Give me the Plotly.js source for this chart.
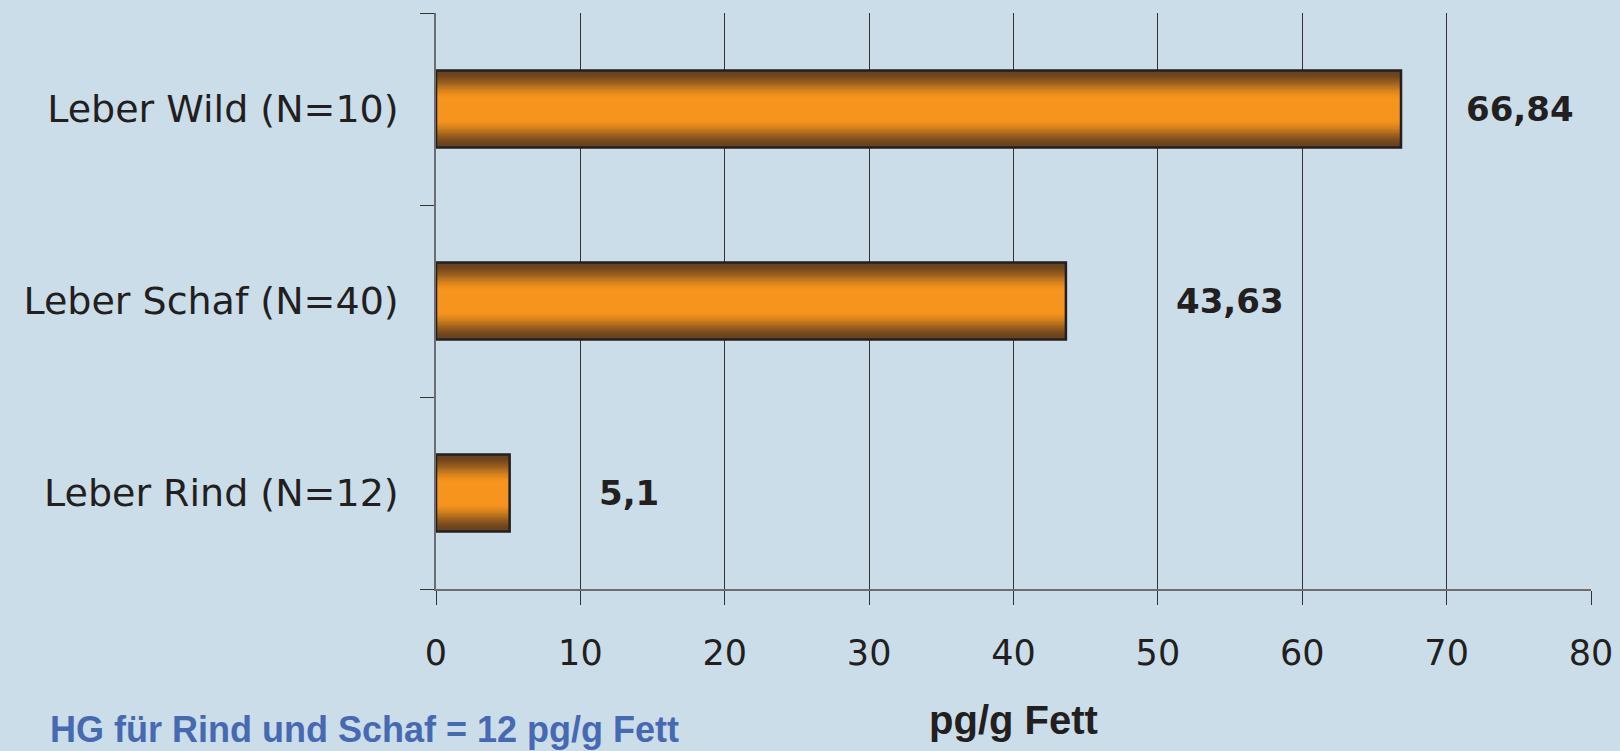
<!DOCTYPE html>
<html>
<head>
<meta charset="utf-8">
<script src="https://cdn.plot.ly/plotly-3.0.1.min.js"></script>
<style>html,body{margin:0;padding:0;background:#cbdde9;}</style>
</head>
<body>
<div id="chart" style="width:1620px;height:751px;"></div>
<script>
// ---- data ----
const categories = ['Leber Rind (N=12)', 'Leber Schaf (N=40)', 'Leber Wild (N=10)'];
const values = [5.1, 43.63, 66.84];
const valueLabels = ['5,1', '43,63', '66,84'];
const xTickVals = [0, 10, 20, 30, 40, 50, 60, 70, 80];
const xTitle = 'pg/g Fett';
const noteText = 'HG für Rind und Schaf = 12 pg/g Fett';

// ---- layout constants (not data) ----
const labelPos = [13.4, 55.0, 75.1];
const barWidth = 0.4;
const dark = [104, 66, 30];
const orange = [247, 148, 29];
const nLayers = 16;
const depth = 0.36;

function mix(a, b, t) {
  return 'rgb(' + a.map((v, i) => Math.round(v + (b[i] - v) * t)).join(',') + ')';
}

const traces = [];
for (let i = 0; i < nLayers; i++) {
  const d = depth * i / (nLayers - 1);          // depth from edge (fraction of bar width)
  const t = Math.min(1, d / depth);
  const tt = t * t * (3 - 2 * t);
  traces.push({
    type: 'bar', orientation: 'h',
    x: values, y: categories,
    width: barWidth * (1 - 2 * d),
    marker: {color: mix(dark, orange, tt), line: {width: 0}},
    hoverinfo: 'skip', showlegend: false
  });
}
traces.push({
  type: 'bar', orientation: 'h',
  x: values, y: categories, width: barWidth,
  marker: {color: 'rgba(0,0,0,0)', line: {color: '#231f20', width: 2.5}},
  hovertemplate: '%{y}: %{x}<extra></extra>', showlegend: false
});

const annotations = values.map((v, i) => ({
  x: labelPos[i], y: categories[i], xref: 'x', yref: 'y',
  text: valueLabels[i], showarrow: false,
  font: {family: 'DejaVu Sans', size: 34, color: '#231f20', weight: 'bold'},
  xanchor: 'center', yanchor: 'middle'
}));
annotations.push({
  x: -0.3347, y: -0.2445, xref: 'paper', yref: 'paper',
  text: noteText, showarrow: false, xanchor: 'left', yanchor: 'middle',
  borderpad: 0,
  font: {family: 'Liberation Sans', size: 36, color: '#4769b2', weight: 'bold'}
});

const layout = {
  width: 1620, height: 751,
  paper_bgcolor: '#cbdde9', plot_bgcolor: '#cbdde9',
  margin: {l: 436, r: 29, t: 13, b: 162},
  barmode: 'overlay',
  showlegend: false,
  xaxis: {
    range: [0, 80], tickvals: xTickVals, ticktext: xTickVals.map(String),
    ticks: 'outside', ticklen: 14, tickcolor: '#333', tickwidth: 1,
    showline: true, linecolor: '#6d6d6d', linewidth: 1.5,
    showgrid: true, gridcolor: '#333', gridwidth: 1, zeroline: false,
    tickfont: {family: 'DejaVu Sans', size: 35, color: '#231f20'},
    ticklabelstandoff: 18,
    title: {text: xTitle, standoff: 34,
      font: {family: 'Liberation Sans', size: 40, color: '#231f20', weight: 'bold'}},
    automargin: false
  },
  yaxis: {
    type: 'category', categoryorder: 'array', categoryarray: categories,
    ticks: 'outside', ticklen: 14, tickcolor: '#333', tickwidth: 1,
    tickson: 'boundaries',
    showline: true, linecolor: '#6d6d6d', linewidth: 1.5,
    showgrid: false, zeroline: false,
    tickfont: {family: 'DejaVu Sans', size: 38, color: '#231f20'},
    ticklabelstandoff: 28,
    automargin: false
  },
  annotations: annotations
};

Plotly.newPlot('chart', traces, layout, {displayModeBar: false, staticPlot: false});
</script>
</body>
</html>
